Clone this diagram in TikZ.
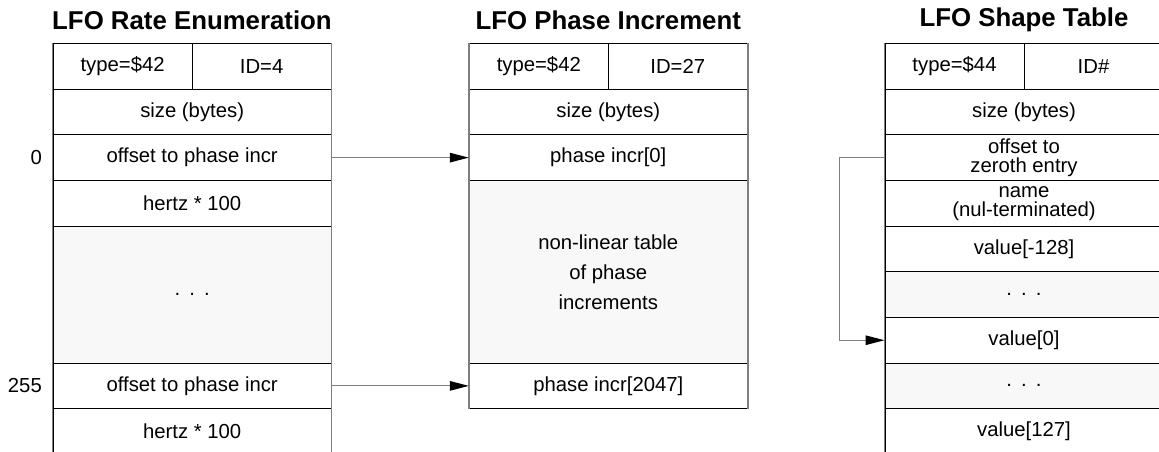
\documentclass[tikz,border=0pt]{standalone}
\usepackage{fontspec}
\setmainfont{Liberation Sans}
\usetikzlibrary{arrows.meta}
\definecolor{sidegray}{HTML}{7F7F7F}
\definecolor{shade}{HTML}{F8F8F8}
\begin{document}
\begin{tikzpicture}[x=1pt,y=-1pt,
  cell/.style={draw=black, line width=1pt, minimum width=278pt, minimum height=45.65pt,
    inner sep=0pt, font=\fontsize{20.3}{19}\selectfont, align=center},
  half/.style={cell, minimum width=139pt},
  grayc/.style={cell, fill=shade},
  ttl/.style={font=\fontsize{25.8}{30}\bfseries\selectfont, inner sep=0pt},
  lbl/.style={font=\fontsize{20.3}{22}\selectfont, inner sep=0pt},
  sideline/.style={draw=sidegray, line width=1.5pt},
  link/.style={draw=sidegray, line width=1.2pt, -{Triangle[length=19pt,width=9.5pt,color=black]}}]
\useasboundingbox (0,0) rectangle (1159,452);
\clip (0,0) rectangle (1159,452);
\fill[white] (0,0) rectangle (1159,452);

% ---------- titles
\node[ttl] (t1) at (192,20) {LFO Rate Enumeration};
\node[ttl] (t2) at (608.3,20) {LFO Phase Increment};
\node[ttl] (t3) at (1024,20) {LFO Shape Table};

% ---------- left table
\node[half] (a0l) at (122.65,66.33) {type=\$42};
\node[half] (a0r) at (261.65,66.33) {ID=4};
\node[cell] (a1) at (192.15,111.98) {size (bytes)};
\node[cell] (a2) at (192.15,157.63) {offset to phase incr};
\node[cell] (a3) at (192.15,203.28) {hertz * 100};
\node[grayc, minimum height=136.95pt] (a4) at (192.15,294.58) {.\hspace{0.45em}.\hspace{0.45em}.};
\node[cell] (a7) at (192.15,385.88) {offset to phase incr};
\node[cell] (a8) at (192.15,431.53) {hertz * 100};
\draw[sideline] (a0l.north west) -- (a8.south west);
\draw[sideline] (a0r.north east) -- (a8.south east);

\node[lbl, anchor=east] (n0) at (42,157.63) {0};
\node[lbl, anchor=east] (n255) at (42,385.88) {255};

% ---------- middle table
\node[half] (b0l) at (538.8,66.33) {type=\$42};
\node[half] (b0r) at (677.8,66.33) {ID=27};
\node[cell] (b1) at (608.3,111.98) {size (bytes)};
\node[cell] (b2) at (608.3,157.63) {phase incr[0]};
\node[grayc, minimum height=182.6pt, font=\fontsize{20.3}{30}\selectfont] (b3) at (608.3,271.75) {non-linear table\\of phase\\increments};
\node[cell] (b7) at (608.3,385.88) {phase incr[2047]};
\draw[sideline] (b0l.north west) -- (b7.south west);
\draw[sideline] (b0r.north east) -- (b7.south east);

% ---------- right table
\node[half] (c0l) at (954.5,66.33) {type=\$44};
\node[half] (c0r) at (1093.5,66.33) {ID\#};
\node[cell] (c1) at (1024,111.98) {size (bytes)};
\node[cell] (c2) at (1024,157.63) {offset to\\zeroth entry};
\node[cell] (c3) at (1024,203.28) {name\\(nul-terminated)};
\node[cell] (c4) at (1024,248.93) {value[-128]};
\node[grayc] (c5) at (1024,294.58) {.\hspace{0.45em}.\hspace{0.45em}.};
\node[cell] (c6) at (1024,340.23) {value[0]};
\node[grayc] (c7) at (1024,385.88) {.\hspace{0.45em}.\hspace{0.45em}.};
\node[cell] (c8) at (1024,431.53) {value[127]};
\draw[sideline] (c0l.north west) -- (c8.south west);
\draw[sideline] (c0r.north east) -- (c8.south east);

% ---------- connectors
\draw[link] (a2.east) -- (b2.west);
\draw[link] (a7.east) -- (b7.west);
\coordinate (bend1) at (839.3,157.63);
\coordinate (bend2) at (839.3,340.23);
\draw[link] (c2.west) -- (bend1) -- (bend2) -- (c6.west);
\end{tikzpicture}
\end{document}
